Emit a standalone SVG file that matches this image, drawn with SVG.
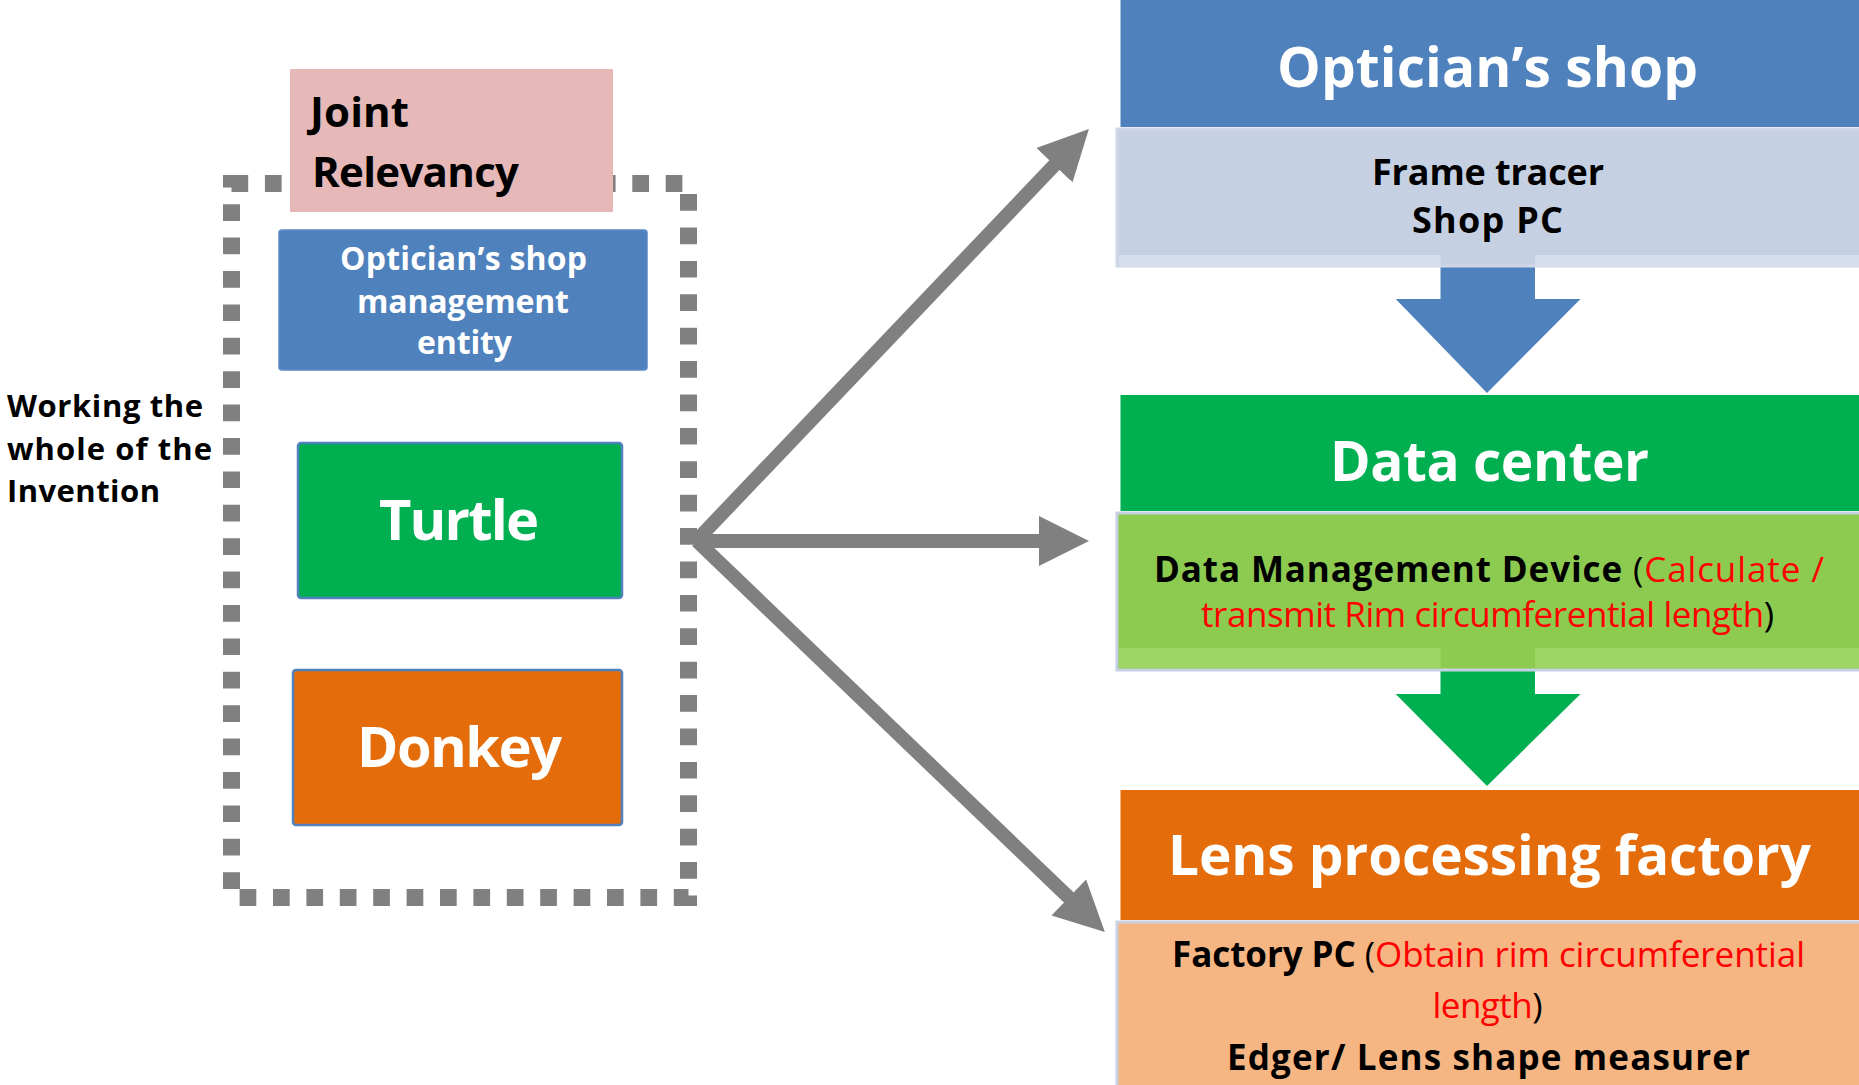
<svg xmlns="http://www.w3.org/2000/svg" width="1859" height="1085" viewBox="0 0 1859 1085">
  <style>
    text { font-family: "Open Sans", Lato, "Liberation Sans", sans-serif; }
    .b { font-weight: 700; }
    .r { font-weight: 400; }
    .w { fill: #FFFFFF; }
    .k { fill: #000000; }
    .red { fill: #FF0000; }
    .gray { stroke: #808080; stroke-width: 14; fill: none; marker-end: url(#head); }
  </style>
  <defs>
    <marker id="head" markerUnits="userSpaceOnUse" markerWidth="50" markerHeight="50" refX="10" refY="25" orient="auto">
      <path d="M0,0 L50,25 L0,50 Z" fill="#808080"/>
    </marker>
  </defs>

  <rect width="1859" height="1085" fill="#FFFFFF"/>

  <!-- dotted frame around the invention -->
  <g id="frame">
    <rect x="231.5" y="183.5" width="457" height="714" fill="none" stroke="#808080" stroke-width="17" stroke-dasharray="16.7 16.7"/>
  </g>

  <g id="label-working">
    <text class="b k" font-size="31" x="7" y="417" textLength="196" lengthAdjust="spacing">Working the</text>
    <text class="b k" font-size="31" x="7" y="460" textLength="205" lengthAdjust="spacing">whole of the</text>
    <text class="b k" font-size="31" x="7" y="502" textLength="153" lengthAdjust="spacing">Invention</text>
  </g>

  <g id="joint-relevancy">
    <rect x="290" y="69" width="323" height="143" fill="#E6B8B7"/>
    <text class="b k" font-size="42" x="310" y="127" textLength="99" lengthAdjust="spacing">Joint</text>
    <text class="b k" font-size="42" x="312" y="187" textLength="207" lengthAdjust="spacing">Relevancy</text>
  </g>

  <g id="shop-entity">
    <rect x="279" y="230" width="368" height="140" rx="3" fill="#4F81BD" stroke="#5A8AC3" stroke-width="1.5"/>
    <text class="b w" font-size="32" x="340" y="270" textLength="247" lengthAdjust="spacing">Optician’s shop</text>
    <text class="b w" font-size="32" x="357" y="313" textLength="212" lengthAdjust="spacing">management</text>
    <text class="b w" font-size="32" x="417" y="354" textLength="95" lengthAdjust="spacing">entity</text>
  </g>

  <g id="turtle">
    <rect x="298" y="443" width="324" height="155" rx="3" fill="#00B050" stroke="#4F81BD" stroke-width="2.5"/>
    <text class="b w" font-size="56" x="379" y="540" textLength="160" lengthAdjust="spacing">Turtle</text>
  </g>

  <g id="donkey">
    <rect x="293" y="670" width="329" height="155" rx="3" fill="#E46C0A" stroke="#4F81BD" stroke-width="2.5"/>
    <text class="b w" font-size="56" x="357" y="767" textLength="205" lengthAdjust="spacing">Donkey</text>
  </g>

  <!-- connectors from the frame to the three sites -->
  <g id="connectors">
    <line class="gray" x1="697" y1="540" x2="1061.3" y2="157.9"/>
    <line class="gray" x1="697" y1="541" x2="1049" y2="541"/>
    <line class="gray" x1="697" y1="541" x2="1076" y2="904.4"/>
    <path d="M1440.5,267 L1535,267 L1535,299 L1580.5,299 L1487,393 L1395.7,299 L1440.5,299 Z" fill="#4F81BD"/>
    <path d="M1440.5,670 L1535,670 L1535,694 L1580.5,694 L1487,786 L1395.7,694 L1440.5,694 Z" fill="#00B050"/>
  </g>

  <g id="opticians-shop">
    <rect x="1120.5" y="0" width="738.5" height="127" fill="#4F81BD"/>
    <rect x="1117" y="129" width="744" height="137" fill="#C5D0E3" stroke="#D0D8E8" stroke-width="3"/>
    <rect x="1119" y="255" width="321.5" height="11" fill="#D6DDEC"/>
    <rect x="1535" y="255" width="324" height="11" fill="#D6DDEC"/>
    <text class="b w" font-size="55" x="1277" y="87" textLength="421" lengthAdjust="spacing">Optician’s shop</text>
    <text class="b k" font-size="36" x="1372" y="185" textLength="232" lengthAdjust="spacing">Frame tracer</text>
    <text class="b k" font-size="36" x="1412" y="233" textLength="151" lengthAdjust="spacing">Shop PC</text>
  </g>

  <g id="data-center">
    <rect x="1120.5" y="395" width="738.5" height="116" fill="#00B050"/>
    <rect x="1117" y="513" width="744" height="157" fill="#8CCB50" stroke="#C5D0E3" stroke-width="3"/>
    <rect x="1119" y="648" width="321.5" height="20" fill="#9DD566"/>
    <rect x="1535" y="648" width="324" height="20" fill="#9DD566"/>
    <text class="b w" font-size="55" x="1330" y="481" textLength="319" lengthAdjust="spacing">Data center</text>
    <text font-size="35" x="1154" y="582" textLength="670" lengthAdjust="spacing"><tspan class="b k">Data Management Device </tspan><tspan class="r k">(</tspan><tspan class="r red">Calculate /</tspan></text>
    <text font-size="35" x="1201" y="627" textLength="573" lengthAdjust="spacing"><tspan class="r red">transmit Rim circumferential length</tspan><tspan class="r k">)</tspan></text>
  </g>

  <g id="lens-factory">
    <rect x="1120.5" y="790" width="738.5" height="130" fill="#E46C0A"/>
    <rect x="1117" y="922" width="744" height="165" fill="#F6B683" stroke="#C9D2E4" stroke-width="3"/>
    <text class="b w" font-size="55" x="1168" y="875" textLength="643" lengthAdjust="spacing">Lens processing factory</text>
    <text font-size="35" x="1172" y="967" textLength="633" lengthAdjust="spacing"><tspan class="b k">Factory PC </tspan><tspan class="r k">(</tspan><tspan class="r red">Obtain rim circumferential</tspan></text>
    <text font-size="35" x="1432.5" y="1018" textLength="110" lengthAdjust="spacing"><tspan class="r red">length</tspan><tspan class="r k">)</tspan></text>
    <text class="b k" font-size="35" x="1227" y="1070" textLength="523" lengthAdjust="spacing">Edger/ Lens shape measurer</text>
  </g>
</svg>
